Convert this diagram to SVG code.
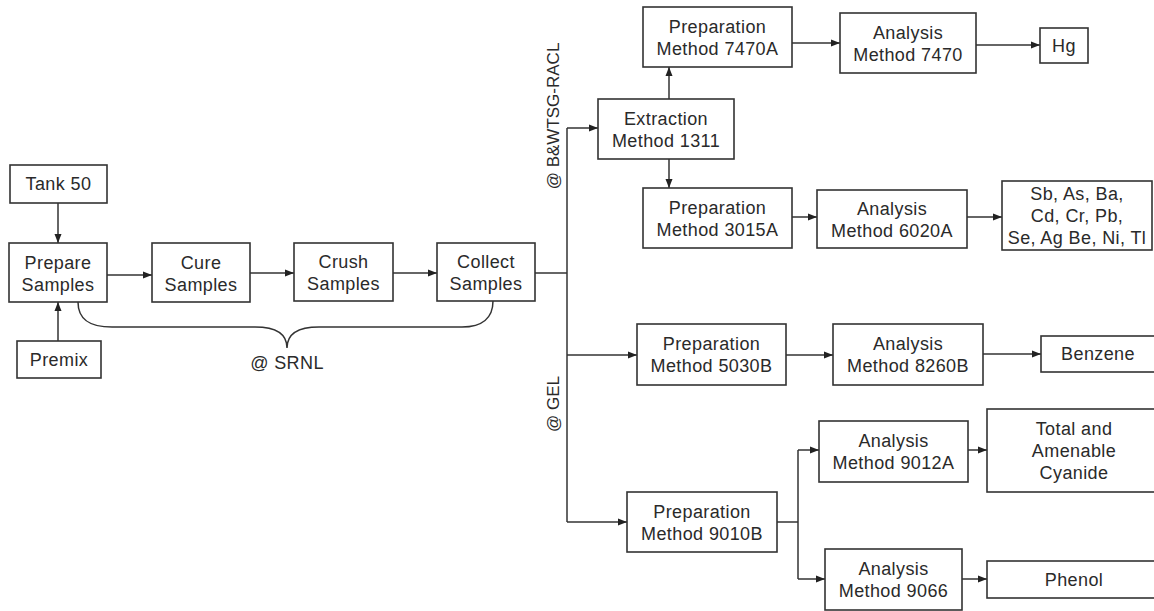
<svg xmlns="http://www.w3.org/2000/svg" width="1154" height="611" viewBox="0 0 1154 611">
<defs>
<style>
.box{fill:#fff;stroke:#333;stroke-width:1.6}
.t{font-family:"Liberation Sans",Arial,sans-serif;font-size:18px;letter-spacing:0.4px;fill:#2a2a2a;text-anchor:middle}
.c{fill:none;stroke:#333;stroke-width:1.5}
.lbl{font-family:"Liberation Sans",Arial,sans-serif;font-size:17px;fill:#2a2a2a;text-anchor:middle}
</style>
<marker id="ah" markerWidth="9" markerHeight="8" refX="9" refY="4" orient="auto" markerUnits="userSpaceOnUse">
<path d="M0,0.5 L9,4 L0,7.5 Z" fill="#222"/>
</marker>
</defs>
<rect width="1154" height="611" fill="#fff"/>

<g id="connectors">
<path class="c" d="M58,203 L58,243" marker-end="url(#ah)"/>
<path class="c" d="M58,341 L58,302" marker-end="url(#ah)"/>
<path class="c" d="M107,275 L152,275" marker-end="url(#ah)"/>
<path class="c" d="M250,273 L294,273" marker-end="url(#ah)"/>
<path class="c" d="M393,273 L437,273" marker-end="url(#ah)"/>
<path class="c" d="M535,273 L567,273"/>
<path class="c" d="M567,128 L567,522"/>
<path class="c" d="M567,128 L598,128" marker-end="url(#ah)"/>
<path class="c" d="M669,99 L669,67" marker-end="url(#ah)"/>
<path class="c" d="M669,159 L669,188" marker-end="url(#ah)"/>
<path class="c" d="M792,43 L840,43" marker-end="url(#ah)"/>
<path class="c" d="M976,45 L1040,45" marker-end="url(#ah)"/>
<path class="c" d="M792,217 L817,217" marker-end="url(#ah)"/>
<path class="c" d="M967,217 L1002,217" marker-end="url(#ah)"/>
<path class="c" d="M567,355 L637,355" marker-end="url(#ah)"/>
<path class="c" d="M786,355 L833,355" marker-end="url(#ah)"/>
<path class="c" d="M983,354 L1041,354" marker-end="url(#ah)"/>
<path class="c" d="M567,522 L627,522" marker-end="url(#ah)"/>
<path class="c" d="M777,522 L798,522"/>
<path class="c" d="M798,450 L798,579"/>
<path class="c" d="M798,450 L819,450" marker-end="url(#ah)"/>
<path class="c" d="M798,579 L825,579" marker-end="url(#ah)"/>
<path class="c" d="M968,450 L987,450" marker-end="url(#ah)"/>
<path class="c" d="M962,579 L987,579" marker-end="url(#ah)"/>
<path class="c" d="M78,302 C78,320 90,327 112,327 L255,327 C277,327 287,334 287,348 C287,334 297,327 319,327 L462,327 C482,327 493,318 493,301"/>
</g>

<g id="tank50"><rect class="box" x="10" y="165" width="97" height="38"/><text class="t" x="58.5" y="190">Tank 50</text></g>
<g id="prepare"><rect class="box" x="9" y="243" width="98" height="59"/><text class="t" x="58" y="269">Prepare</text><text class="t" x="58" y="291">Samples</text></g>
<g id="premix"><rect class="box" x="17" y="341" width="84" height="37"/><text class="t" x="59" y="366">Premix</text></g>
<g id="cure"><rect class="box" x="152" y="243" width="98" height="59"/><text class="t" x="201" y="269">Cure</text><text class="t" x="201" y="291">Samples</text></g>
<g id="crush"><rect class="box" x="294" y="243" width="99" height="58"/><text class="t" x="343.5" y="268">Crush</text><text class="t" x="343.5" y="290">Samples</text></g>
<g id="collect"><rect class="box" x="437" y="243" width="98" height="58"/><text class="t" x="486" y="268">Collect</text><text class="t" x="486" y="290">Samples</text></g>
<g id="srnl"><text class="t" x="287" y="369">@ SRNL</text></g>
<g id="bwtsg"><text class="lbl" transform="translate(559,116) rotate(-90)">@ B&amp;WTSG-RACL</text></g>
<g id="gel"><text class="lbl" transform="translate(559,404) rotate(-90)">@ GEL</text></g>

<g id="extraction"><rect class="box" x="598" y="99" width="136" height="60"/><text class="t" x="666" y="125">Extraction</text><text class="t" x="666" y="147">Method 1311</text></g>
<g id="prep7470a"><rect class="box" x="643" y="7" width="149" height="60"/><text class="t" x="717.5" y="33">Preparation</text><text class="t" x="717.5" y="55">Method 7470A</text></g>
<g id="ana7470"><rect class="box" x="840" y="13" width="136" height="60"/><text class="t" x="908" y="39">Analysis</text><text class="t" x="908" y="61">Method 7470</text></g>
<g id="hg"><rect class="box" x="1040" y="28" width="48" height="35"/><text class="t" x="1064" y="52">Hg</text></g>
<g id="prep3015a"><rect class="box" x="643" y="188" width="149" height="60"/><text class="t" x="717.5" y="214">Preparation</text><text class="t" x="717.5" y="236">Method 3015A</text></g>
<g id="ana6020a"><rect class="box" x="817" y="190" width="150" height="58"/><text class="t" x="892" y="215">Analysis</text><text class="t" x="892" y="237">Method 6020A</text></g>
<g id="metals"><rect class="box" x="1002" y="181" width="150" height="69"/><text class="t" x="1077" y="200">Sb, As, Ba,</text><text class="t" x="1077" y="222">Cd, Cr, Pb,</text><text class="t" x="1077" y="244">Se, Ag Be, Ni, Tl</text></g>
<g id="prep5030b"><rect class="box" x="637" y="324" width="149" height="61"/><text class="t" x="711.5" y="350">Preparation</text><text class="t" x="711.5" y="372">Method 5030B</text></g>
<g id="ana8260b"><rect class="box" x="833" y="324" width="150" height="61"/><text class="t" x="908" y="350">Analysis</text><text class="t" x="908" y="372">Method 8260B</text></g>
<g id="benzene"><rect class="box" x="1041" y="336" width="116" height="36"/><text class="t" x="1098" y="360">Benzene</text></g>
<g id="prep9010b"><rect class="box" x="627" y="492" width="150" height="60"/><text class="t" x="702" y="518">Preparation</text><text class="t" x="702" y="540">Method 9010B</text></g>
<g id="ana9012a"><rect class="box" x="819" y="421" width="149" height="61"/><text class="t" x="893.5" y="447">Analysis</text><text class="t" x="893.5" y="469">Method 9012A</text></g>
<g id="cyanide"><rect class="box" x="987" y="409" width="174" height="83"/><text class="t" x="1074" y="435">Total and</text><text class="t" x="1074" y="457">Amenable</text><text class="t" x="1074" y="479">Cyanide</text></g>
<g id="ana9066"><rect class="box" x="825" y="549" width="137" height="61"/><text class="t" x="893.5" y="575">Analysis</text><text class="t" x="893.5" y="597">Method 9066</text></g>
<g id="phenol"><rect class="box" x="987" y="561" width="174" height="37"/><text class="t" x="1074" y="586">Phenol</text></g>
</svg>
